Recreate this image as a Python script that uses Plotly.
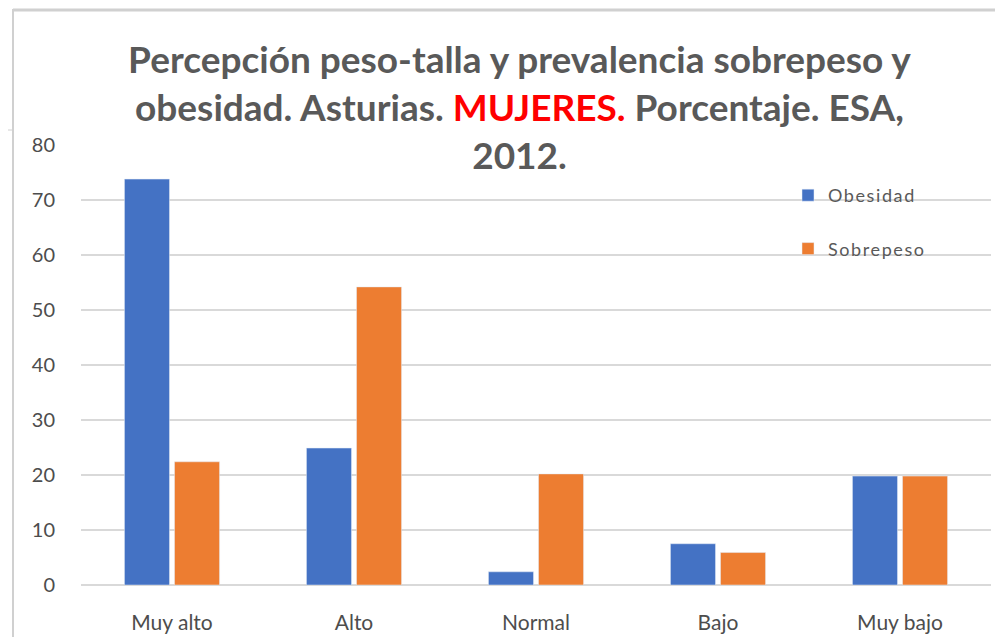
import plotly.graph_objects as go

categories = ["Muy alto", "Alto", "Normal", "Bajo", "Muy bajo"]
obesidad = [73.8, 24.9, 2.4, 7.5, 19.8]
sobrepeso = [22.4, 54.2, 20.2, 5.9, 19.8]
y_ticks = [0, 10, 20, 30, 40, 50, 60, 70, 80]

BLUE = "#4472C4"
ORANGE = "#ED7D31"
GRAY = "#595959"
FONT = "Lato"

# page has an 8px body margin; work in figure coords = page coords - 8
OFF = 8
W, H = 1003 - OFF, 637 - OFF
L, R, T, B = 81 - OFF, 1003 - 991, 145 - OFF, 637 - 585
PW, PH = W - L - R, H - T - B


def px_x(x):  # page px -> paper fraction
    return (x - OFF - L) / PW


def px_y(y):
    return (H - B - (y - OFF)) / PH


fig = go.Figure()
fig.add_trace(go.Bar(name="<span style='letter-spacing:1.6px'>Obesidad</span>",
                     x=categories, y=obesidad,
                     marker=dict(color=BLUE), legendgroup="a"))
fig.add_trace(go.Bar(name="<span style='letter-spacing:1.6px'>Sobrepeso</span>",
                     x=categories, y=sobrepeso,
                     marker=dict(color=ORANGE), legendgroup="b"))

title_text = ("<b>Percepción peso-talla y prevalencia sobrepeso y<br>"
              "obesidad. Asturias. <span style='color:#FF0000'>MUJERES.</span> Porcentaje. ESA,<br>"
              "2012.</b>")

fig.update_layout(
    width=W, height=H,
    paper_bgcolor="white", plot_bgcolor="white",
    margin=dict(l=L, r=R, t=T, b=B, autoexpand=False),
    barmode="group", bargap=0.45, bargroupgap=0.1,
    font=dict(family=FONT, color=GRAY, size=16),
    title=dict(text=title_text, x=(519.5 - OFF) / W, xanchor="center", xref="container",
               y=1 - (73 - OFF) / H, yanchor="top", yref="container",
               font=dict(family=FONT, size=37, color=GRAY)),
    legend=dict(x=px_x(788), y=px_y(177), xref="paper", yref="paper",
                xanchor="left", yanchor="top",
                bgcolor="rgba(0,0,0,0)", tracegroupgap=27,
                font=dict(family=FONT, size=18, color=GRAY)),
    xaxis=dict(showgrid=False, showline=False, ticks="outside", ticklen=19,
               tickcolor="rgba(0,0,0,0)",
               tickfont=dict(family=FONT, size=21, color="#4D4D4D")),
    yaxis=dict(range=[0, 80], tickvals=y_ticks, showgrid=True,
               gridcolor="#D9D9D9", gridwidth=1.5, zeroline=True,
               zerolinecolor="#D9D9D9", zerolinewidth=1.5, showline=False,
               ticks="outside", ticklen=21, tickcolor="rgba(0,0,0,0)",
               tickfont=dict(family=FONT, size=20, color="#4D4D4D")),
)

# hide top gridline (covered by the title area in the original)
fig.add_shape(type="line", xref="paper", yref="paper", x0=0, x1=1, y0=1, y1=1,
              line=dict(color="white", width=4), layer="above")

# screenshot frame edges
fig.add_shape(type="line", xref="paper", yref="paper",
              x0=px_x(13), x1=px_x(1003), y0=px_y(10), y1=px_y(10),
              line=dict(color="#D0D0D0", width=3))
fig.add_shape(type="line", xref="paper", yref="paper",
              x0=px_x(13), x1=px_x(13), y0=px_y(637), y1=px_y(9),
              line=dict(color="#D0D0D0", width=2))
fig.add_shape(type="line", xref="paper", yref="paper",
              x0=px_x(OFF), x1=px_x(13), y0=px_y(130), y1=px_y(130),
              line=dict(color="#D0D0D0", width=1))

fig.write_html("out.html")
